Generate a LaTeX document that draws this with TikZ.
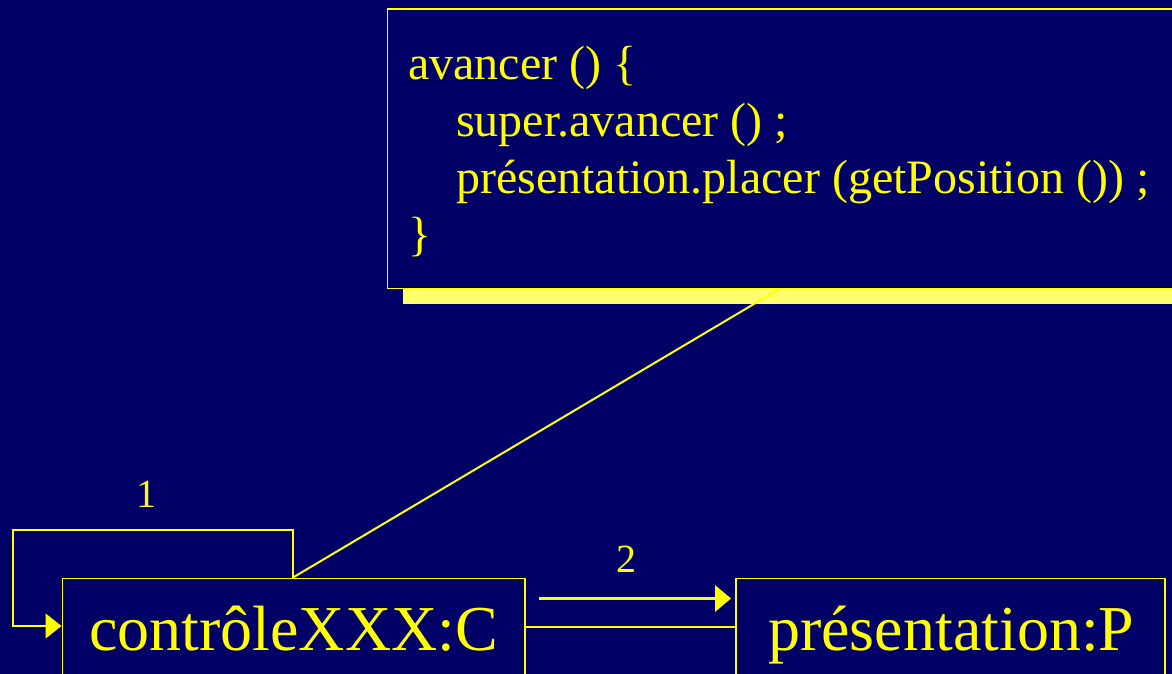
\documentclass[tikz,border=0pt]{standalone}
\usepackage{fontspec}
\setmainfont{Liberation Serif}
\usetikzlibrary{arrows.meta,calc,shadows}
\definecolor{navy}{RGB}{0,0,102}
\definecolor{ylw}{RGB}{255,255,0}
\definecolor{shadowy}{RGB}{255,255,110}
\tikzset{
  box/.style={draw=ylw, fill=navy, line width=1.6pt, rectangle, inner sep=0pt, anchor=north west},
  notebox/.style={box, general shadow={fill=shadowy, shadow xshift=16pt, shadow yshift=-16pt}},
  codetxt/.style={text=ylw, inner sep=0pt, anchor=base west, font=\fontsize{48}{56}\selectfont},
  bigtxt/.style={text=ylw, inner sep=0pt, anchor=base west, font=\fontsize{64}{72}\selectfont},
  numtxt/.style={text=ylw, inner sep=0pt, anchor=base, font=\fontsize{40}{46}\selectfont},
  conn/.style={draw=ylw, line width=1.6pt},
  msg/.style={draw=ylw, line width=3.5pt, -{Triangle[length=16pt,width=26pt]}},
  loopar/.style={conn, -{Triangle[length=16pt,width=25pt]}}
}
\begin{document}
\begin{tikzpicture}[x=1pt,y=-1pt]
\useasboundingbox (0,0) rectangle (1172,674);
\clip (0,0) rectangle (1172,674);
\fill[navy] (0,0) rectangle (1172,674);
% note box
\node[notebox, minimum width=820pt, minimum height=279pt] (note) at (386.5,8.5) {};
\node[codetxt] (l1) at (408,80) {avancer () \{};
\node[codetxt] (l2) at (456,137) {super.avancer () ;};
\node[codetxt] (l3) at (456,193) {présentation.placer (getPosition ()) ;};
\node[codetxt] (l4) at (408,250) {\}};
% object boxes
\node[box, minimum width=462.5pt, minimum height=150pt] (cbox) at (61.5,577.5) {};
\node[box, minimum width=429pt, minimum height=150pt] (pbox) at (735,577.5) {};
\node[bigtxt] (ctxt) at (89,650) {contrôleXXX:C};
\node[bigtxt] (ptxt) at (768,650) {présentation:P};
% note connector
\draw[conn, line width=2pt] ($(cbox.north west)+(231.5,0)$) -- ($(note.south west)+(392.5,0)$);
% self loop
\draw[loopar] ($(cbox.north west)+(231.5,0)$) |- ($(cbox.north west)+(-48.5,-47.5)$) |- ($(cbox.north west)+(0,48.5)$);
\node[numtxt] (n1) at (146,507) {1};
% association link
\draw[conn, line width=2.5pt] ($(cbox.north east)+(0,49.5)$) -- ($(pbox.north west)+(0,49.5)$);
% message 2
\draw[msg] ($(cbox.north east)+(13,21)$) -- ($(pbox.north west)+(-4,21)$);
\node[numtxt] (n2) at (626,572) {2};
\end{tikzpicture}
\end{document}
